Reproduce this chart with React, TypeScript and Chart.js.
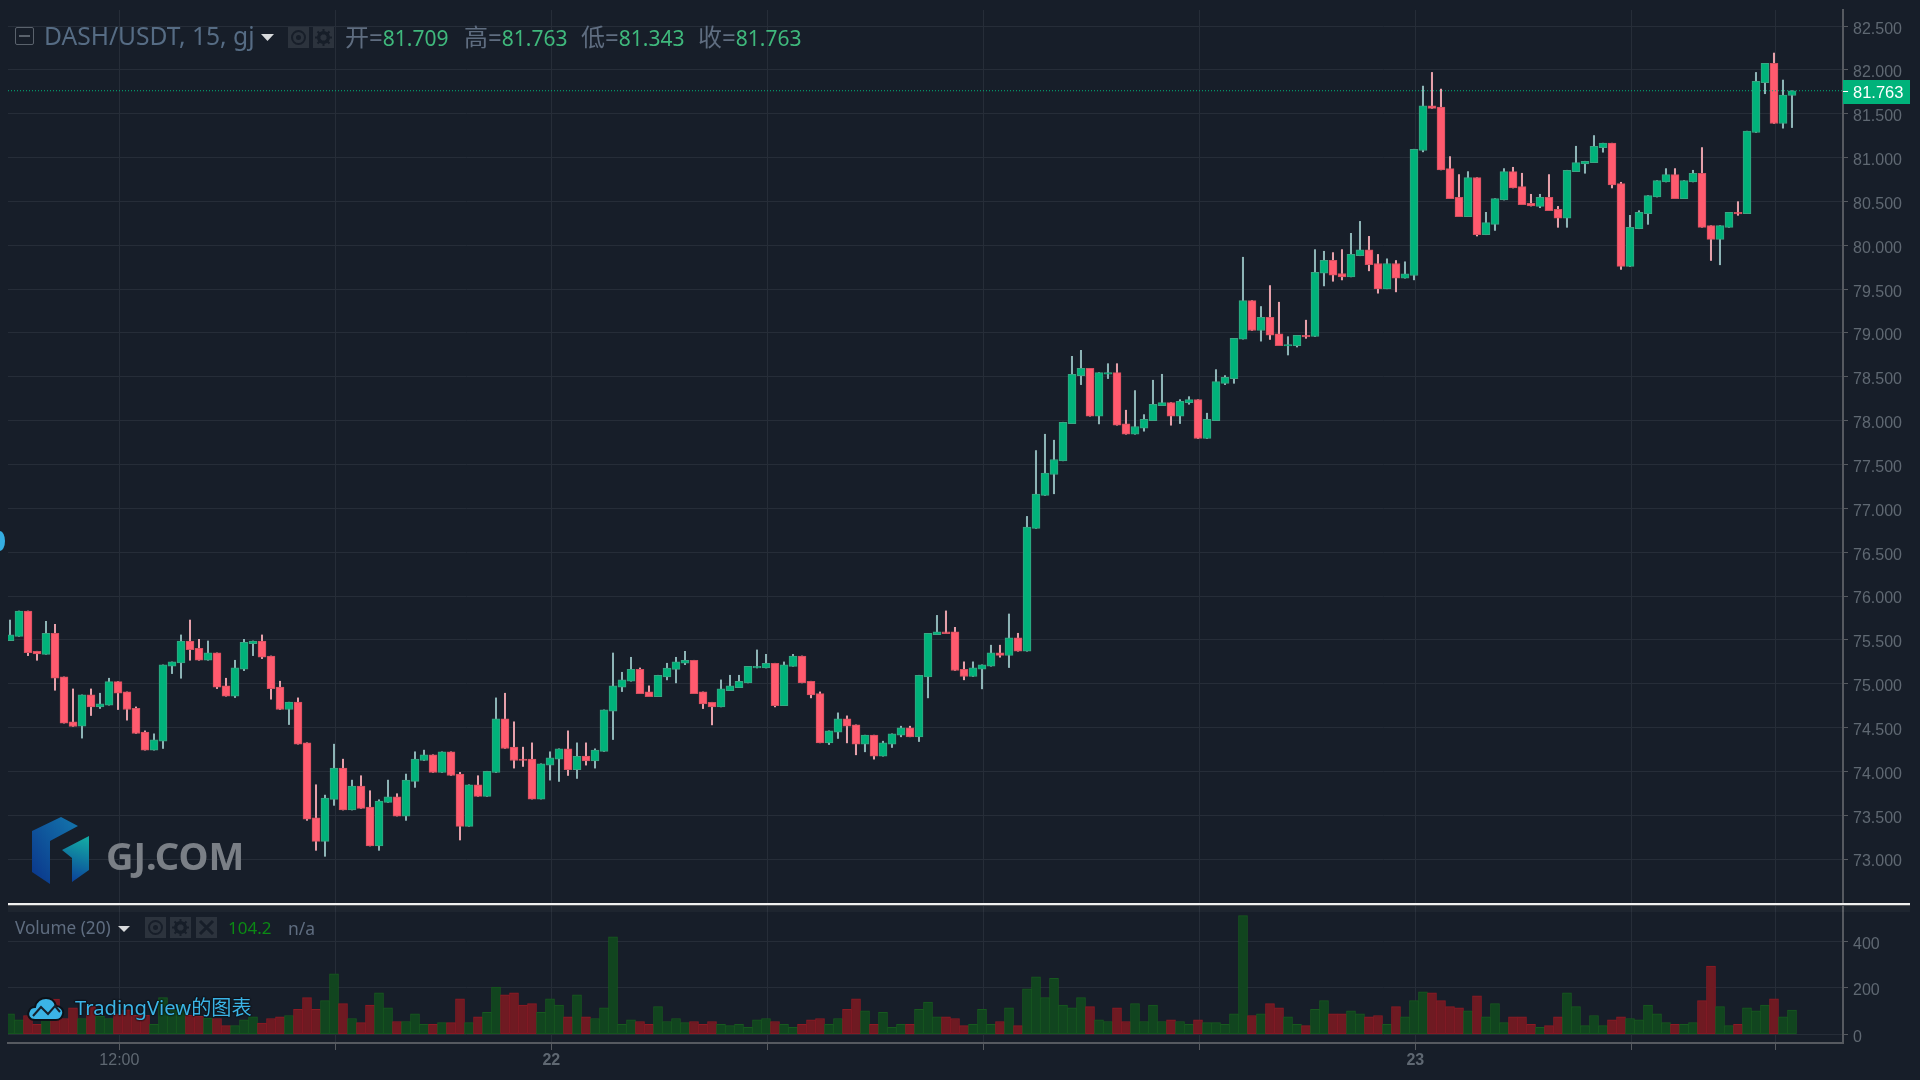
import React, { useEffect, useRef } from "react";
import { Chart, registerables } from "chart.js";

Chart.register(...registerables);

const opens = [
75.491,75.540,75.829,75.370,75.335,75.575,75.077,74.565,74.515,74.872,
74.735,74.755,75.024,74.906,74.720,74.447,74.242,74.344,75.199,75.237,
75.487,75.404,75.267,75.351,74.975,74.857,75.165,75.457,75.487,75.316,
74.960,74.705,74.789,74.326,73.471,73.202,73.680,74.037,73.559,73.832,
73.593,73.149,73.646,73.710,73.490,73.885,74.124,74.189,73.988,74.223,
73.969,73.373,73.847,73.714,73.987,74.599,74.276,74.139,74.139,73.684,
74.071,74.139,74.257,74.018,74.173,74.120,74.227,74.686,74.959,75.028,
75.164,74.906,74.853,75.077,75.164,75.233,75.267,74.906,74.788,74.735,
74.921,74.955,75.009,75.179,75.179,75.233,74.750,75.198,75.316,75.028,
74.887,74.325,74.447,74.599,74.530,74.310,74.413,74.173,74.310,74.413,
74.496,74.394,75.077,75.559,75.590,75.590,75.165,75.082,75.165,75.199,
75.351,75.321,75.522,75.370,76.771,77.147,77.386,77.542,77.967,78.514,
78.597,78.051,78.529,78.548,77.963,77.845,77.914,78.001,78.172,78.206,
78.051,78.206,78.240,77.796,78.001,78.426,78.480,78.930,79.370,79.028,
79.180,78.990,78.852,78.855,78.973,78.960,79.681,79.829,79.678,79.640,
79.881,79.949,79.793,79.504,79.793,79.625,79.656,81.081,81.591,81.576,
80.875,80.547,80.327,80.772,80.121,80.239,80.517,80.841,80.669,80.479,
80.444,80.547,80.410,80.311,80.841,80.928,80.944,81.115,81.165,80.704,
79.759,80.189,80.361,80.551,80.723,80.807,80.532,80.723,80.822,80.224,
80.067,80.205,80.376,80.361,81.287,81.854,82.075,81.389,81.709,
];
const highs = [
75.726,75.829,75.829,75.370,75.711,75.677,75.077,74.940,74.872,74.940,
74.891,75.062,75.024,74.906,74.735,74.462,74.428,75.214,75.248,75.556,
75.726,75.506,75.487,75.351,75.062,75.267,75.506,75.487,75.556,75.316,
75.028,74.789,74.838,74.326,73.847,73.729,74.310,74.139,73.900,73.950,
73.779,73.676,73.900,73.745,73.969,74.223,74.242,74.189,74.223,74.223,
73.988,73.847,73.950,74.001,74.838,74.891,74.565,74.276,74.325,74.086,
74.223,74.257,74.462,74.325,74.325,74.257,74.701,75.350,75.130,75.301,
75.179,74.975,75.096,75.233,75.301,75.369,75.267,74.906,74.788,75.043,
75.096,75.096,75.198,75.385,75.335,75.233,75.248,75.335,75.316,75.028,
74.906,74.462,74.667,74.633,74.530,74.413,74.413,74.344,74.428,74.515,
74.515,75.096,75.574,75.779,75.830,75.643,75.249,75.249,75.215,75.439,
75.439,75.795,75.575,76.908,77.659,77.845,77.777,77.982,78.734,78.802,
78.597,78.548,78.650,78.650,78.119,78.343,78.069,78.461,78.529,78.206,
78.240,78.274,78.240,78.085,78.582,78.514,78.939,79.864,79.370,79.302,
79.541,79.351,78.958,78.973,79.146,79.951,79.932,79.917,79.951,80.137,
80.273,80.102,79.896,79.846,79.827,79.812,81.096,81.816,81.972,81.782,
81.012,80.807,80.841,80.772,80.376,80.532,80.875,80.890,80.822,80.582,
80.582,80.807,80.444,80.856,81.130,80.959,81.252,81.165,81.165,80.719,
80.342,80.395,80.567,80.738,80.875,80.875,80.738,80.856,81.115,80.224,
80.224,80.376,80.498,81.302,81.972,82.075,82.193,81.885,81.763,
];
const lows = [
75.491,75.540,75.320,75.267,75.335,74.925,74.550,74.512,74.379,74.637,
74.717,74.755,74.705,74.584,74.432,74.242,74.242,74.261,75.115,75.062,
75.267,75.267,75.267,74.944,74.857,74.842,75.149,75.320,75.286,74.823,
74.705,74.534,74.310,73.441,73.099,73.031,73.612,73.559,73.559,73.578,
73.149,73.099,73.646,73.490,73.441,73.817,74.124,73.988,73.988,73.953,
73.217,73.373,73.714,73.714,73.987,74.261,74.037,74.056,73.684,73.684,
73.900,73.885,73.953,73.919,74.071,74.037,74.227,74.363,74.910,75.028,
74.887,74.853,74.853,75.043,75.009,75.217,74.887,74.716,74.530,74.735,
74.921,74.955,75.009,75.179,75.179,74.735,74.750,75.198,75.009,74.838,
74.325,74.306,74.375,74.325,74.189,74.223,74.139,74.173,74.272,74.394,
74.394,74.340,74.838,75.559,75.571,75.150,75.044,75.082,74.941,75.199,
75.302,75.184,75.370,75.370,76.771,77.147,77.166,77.542,77.967,78.411,
78.051,77.963,78.480,77.948,77.845,77.845,77.880,78.001,78.172,77.948,
77.967,78.187,77.796,77.796,78.001,78.411,78.426,78.930,79.028,78.907,
78.926,78.855,78.749,78.840,78.939,78.960,79.537,79.590,79.605,79.640,
79.881,79.709,79.454,79.504,79.469,79.625,79.606,81.066,81.561,80.860,
80.532,80.327,80.327,80.106,80.121,80.170,80.517,80.654,80.464,80.448,
80.429,80.395,80.205,80.205,80.841,80.822,80.944,81.062,80.654,79.725,
79.759,80.189,80.239,80.551,80.723,80.532,80.532,80.723,80.205,79.827,
79.778,80.205,80.342,80.361,81.287,81.729,81.389,81.336,81.343,
];
const closes = [
75.556,75.829,75.354,75.339,75.575,75.062,74.550,74.512,74.872,74.735,
74.770,75.024,74.891,74.705,74.432,74.242,74.360,75.214,75.248,75.487,
75.389,75.267,75.351,74.960,74.857,75.180,75.472,75.487,75.301,74.944,
74.705,74.789,74.310,73.456,73.202,73.695,74.037,73.559,73.832,73.578,
73.149,73.661,73.710,73.490,73.900,74.139,74.189,73.988,74.223,73.953,
73.373,73.847,73.714,74.001,74.599,74.261,74.124,74.124,73.684,74.086,
74.154,74.257,74.018,74.170,74.120,74.242,74.701,74.975,75.043,75.164,
74.887,74.853,75.096,75.179,75.248,75.267,74.887,74.769,74.735,74.940,
74.975,75.028,75.198,75.198,75.233,74.750,75.214,75.316,75.009,74.872,
74.325,74.462,74.599,74.515,74.310,74.413,74.173,74.325,74.428,74.496,
74.394,75.096,75.574,75.590,75.571,75.150,75.082,75.180,75.215,75.351,
75.321,75.522,75.370,76.786,77.162,77.401,77.557,77.982,78.529,78.597,
78.051,78.548,78.548,77.948,77.845,77.933,78.016,78.187,78.206,78.051,
78.221,78.240,77.796,78.016,78.445,78.495,78.939,79.370,79.028,79.180,
78.975,78.855,78.867,78.973,78.954,79.693,79.829,79.659,79.640,79.898,
79.949,79.778,79.504,79.793,79.625,79.675,81.096,81.591,81.561,80.860,
80.532,80.327,80.772,80.121,80.258,80.532,80.841,80.654,80.464,80.448,
80.547,80.395,80.311,80.856,80.944,80.959,81.130,81.165,80.688,79.759,
80.205,80.376,80.567,80.738,80.807,80.532,80.738,80.822,80.205,80.067,
80.224,80.376,80.357,81.302,81.870,82.075,81.389,81.713,81.763,
];
const volumes = [
88,62,81,43,62,151,68,114,68,119,
77,68,88,105,82,82,43,158,105,126,
82,77,70,68,37,37,62,75,48,68,
75,81,107,158,107,145,260,132,68,50,
126,178,114,55,55,88,43,43,50,50,
152,50,75,94,203,170,178,126,132,94,
152,126,75,170,75,68,114,419,43,62,
55,43,119,55,68,50,55,43,55,43,
37,43,30,62,68,55,43,30,43,62,
68,43,68,107,152,101,43,94,30,43,
43,107,139,75,75,68,37,43,107,43,
55,114,37,196,247,158,241,126,114,158,
119,62,55,114,55,132,55,126,55,62,
55,43,62,50,50,43,88,510,81,88,
132,114,75,43,37,107,145,88,88,101,
88,75,81,43,119,75,145,183,178,145,
119,114,101,165,75,132,50,75,75,43,
30,37,75,178,119,37,81,37,62,75,
68,62,126,88,50,43,43,50,145,293,
119,37,43,114,101,126,152,75,104,
];

const lastPrice = 81.763;
const priceTicks = [73, 73.5, 74, 74.5, 75, 75.5, 76, 76.5, 77, 77.5, 78, 78.5, 79, 79.5, 80, 80.5, 81, 81.5, 82, 82.5];
const volumeTicks = [0, 200, 400];
const timeTickPositions = [12.15, 36.15, 60.15, 84.15, 108.15, 132.15, 156.15, 180.15, 196.15];
const timeTickLabels = ["12:00", "", "22", "", "", "", "23", "", ""];
const legendOHLC = [
  { label: "开=", value: "81.709", left: 345 },
  { label: "高=", value: "81.763", left: 464 },
  { label: "低=", value: "81.343", left: 581 },
  { label: "收=", value: "81.763", left: 698 },
];

const BG = "#171e29";
const GRID = "#262d38";
const AXIS = "#565a60";
const TICK_TEXT = "#5f6872";
const UP = "#00b27a";
const UP_BORDER = "#3aa583";
const DOWN = "#ff5a6e";
const DOWN_BORDER = "#d4505f";
const UP_WICK = "#8db4b6";
const DOWN_WICK = "#e6a0aa";
const VOL_UP = "#11451f";
const VOL_UP_BORDER = "#17591f";
const VOL_DOWN = "#6f1a22";
const VOL_DOWN_BORDER = "#8c1a24";

const FONT = "'Liberation Sans', Arial, sans-serif";
const HEAD_FONT = "'Noto Sans', 'Noto Sans CJK SC', sans-serif";
const X_MIN = -0.2222;
const X_MAX = 203.667;

const isUp = (i: number) => closes[i] >= opens[i];

const fitY = (s: any) => {
  s.width = 77;
  s.paddingTop = 0;
  s.paddingBottom = 0;
};
const fitX = (h: number) => (s: any) => {
  s.height = h;
  s.paddingLeft = 0;
  s.paddingRight = 0;
};

const PriceTag = {
  id: "priceTag",
  afterDraw(chart: any) {
    const { ctx, scales } = chart;
    const y = scales.y.getPixelForValue(lastPrice);
    ctx.save();
    ctx.fillStyle = UP;
    ctx.fillRect(1843, Math.round(y) - 11, 67, 24);
    ctx.strokeStyle = "#ffffff";
    ctx.lineWidth = 1;
    ctx.beginPath();
    ctx.moveTo(1843, Math.round(y) + 0.5);
    ctx.lineTo(1848, Math.round(y) + 0.5);
    ctx.stroke();
    ctx.fillStyle = "#ffffff";
    ctx.font = `16.5px ${FONT}`;
    ctx.textBaseline = "middle";
    ctx.textAlign = "left";
    ctx.fillText(lastPrice.toFixed(3), 1853, y + 3);
    ctx.restore();
  },
};

function Icon({ left, top, kind }: { left: number; top: number; kind: string }) {
  const c = "#171e29";
  return (
    <svg width={21} height={21} viewBox="0 0 21 21" style={{ position: "absolute", left, top }}>
      <rect width={21} height={21} fill="#2c333d" />
      {kind === "eye" && (
        <g>
          <circle cx={10.5} cy={10.5} r={6.5} fill="none" stroke={c} strokeWidth={2} />
          <circle cx={10.5} cy={10.5} r={2.5} fill={c} />
        </g>
      )}
      {kind === "gear" && (
        <g>
          <circle cx={10.5} cy={10.5} r={5} fill="none" stroke={c} strokeWidth={3} />
          <path d="M10.5 2v17M2 10.5h17M4.5 4.5l12 12M16.5 4.5l-12 12" stroke={c} strokeWidth={2} />
          <circle cx={10.5} cy={10.5} r={3} fill="#2c333d" />
        </g>
      )}
      {kind === "x" && <path d="M4 4l13 13M17 4L4 17" stroke={c} strokeWidth={3} />}
    </svg>
  );
}

export default function App() {
  const priceRef = useRef<HTMLCanvasElement>(null);
  const volRef = useRef<HTMLCanvasElement>(null);

  useEffect(() => {
    const idx = opens.map((_, i) => i);
    const setTimeTicks = (scale: any) => {
      scale.ticks = timeTickPositions.map((value) => ({ value }));
    };
    const price = new Chart(priceRef.current!, {
      type: "bar",
      data: {
        datasets: [
          {
            type: "line",
            data: [
              { x: X_MIN, y: lastPrice },
              { x: X_MAX, y: lastPrice },
            ],
            borderColor: UP,
            borderWidth: 1,
            borderDash: [1, 2],
            pointRadius: 0,
            order: 0,
          },
          {
            data: idx.map((i) => ({ x: i, y: [Math.min(opens[i], closes[i]), Math.max(opens[i], closes[i])] })),
            backgroundColor: idx.map((i) => (isUp(i) ? UP : DOWN)),
            borderColor: idx.map((i) => (isUp(i) ? UP_BORDER : DOWN_BORDER)),
            borderWidth: 1,
            borderSkipped: false,
            barThickness: 8,
            grouped: false,
            order: 1,
          },
          {
            data: idx.map((i) => ({ x: i, y: [lows[i], highs[i]] })),
            backgroundColor: idx.map((i) => (isUp(i) ? UP_WICK : DOWN_WICK)),
            borderWidth: 0,
            barThickness: 1.4,
            grouped: false,
            order: 2,
          },
        ] as any,
      },
      options: {
        responsive: false,
        animation: false,
        events: [],
        layout: { padding: { left: 8, top: 10, right: 0, bottom: 0 } },
        plugins: { legend: { display: false }, tooltip: { enabled: false }, title: { display: false } },
        scales: {
          x: {
            type: "linear",
            offset: false,
            min: X_MIN,
            max: X_MAX,
            afterBuildTicks: setTimeTicks,
            afterFit: fitX(0),
            ticks: { display: false },
            grid: { color: GRID, drawTicks: false, offset: false },
            border: { display: false },
          },
          y: {
            type: "linear",
            position: "right",
            min: 72.487,
            max: 82.684,
            afterBuildTicks: (s: any) => {
              s.ticks = priceTicks.map((value) => ({ value }));
            },
            afterFit: fitY,
            ticks: {
              color: TICK_TEXT,
              font: { family: FONT, size: 16 },
              padding: 5,
              labelOffset: 3,
              callback: (v: any) => Number(v).toFixed(3),
            },
            grid: { color: GRID, tickColor: AXIS, tickLength: 5 },
            border: { color: AXIS, width: 2 },
          },
        },
      } as any,
      plugins: [PriceTag],
    });

    const vol = new Chart(volRef.current!, {
      type: "bar",
      data: {
        datasets: [
          {
            data: idx.map((i) => ({ x: i, y: volumes[i] })),
            backgroundColor: idx.map((i) => (isUp(i) ? VOL_UP : VOL_DOWN)),
            borderColor: idx.map((i) => (isUp(i) ? VOL_UP_BORDER : VOL_DOWN_BORDER)),
            borderWidth: 1,
            borderSkipped: false,
            barThickness: 9,
            grouped: false,
          },
        ] as any,
      },
      options: {
        responsive: false,
        animation: false,
        events: [],
        layout: { padding: { left: 8, top: 2, right: 0, bottom: 0 } },
        plugins: { legend: { display: false }, tooltip: { enabled: false } },
        scales: {
          x: {
            type: "linear",
            offset: false,
            min: X_MIN,
            max: X_MAX,
            afterBuildTicks: setTimeTicks,
            afterFit: fitX(37),
            ticks: {
              color: TICK_TEXT,
              autoSkip: false,
              maxRotation: 0,
              minRotation: 0,
              padding: 1,
              font: (c: any) => ({
                family: FONT,
                size: 16,
                weight: /^\d\d$/.test(timeTickLabels[c.index] || "") ? "bold" : "normal",
              }),
              callback: (_: any, i: number) => timeTickLabels[i],
            },
            grid: { color: GRID, tickColor: AXIS, tickLength: 7, offset: false },
            border: { color: AXIS, width: 2 },
          },
          y: {
            type: "linear",
            position: "right",
            min: -37.4,
            max: 551.7,
            afterBuildTicks: (s: any) => {
              s.ticks = volumeTicks.map((value) => ({ value }));
            },
            afterFit: fitY,
            ticks: {
              color: TICK_TEXT,
              font: { family: FONT, size: 16 },
              padding: 5,
              labelOffset: 3,
              callback: (v: any) => String(v),
            },
            grid: { color: GRID, tickColor: AXIS, tickLength: 5 },
            border: { color: AXIS, width: 2 },
          },
        },
      } as any,
    });

    return () => {
      price.destroy();
      vol.destroy();
    };
  }, []);

  const abs = (style: React.CSSProperties): React.CSSProperties => ({ position: "absolute", whiteSpace: "nowrap", ...style });

  return (
    <div style={{ position: "fixed", left: 0, top: 0, width: 1920, height: 1080, background: BG, overflow: "hidden" }}>
      <canvas ref={priceRef} width={1920} height={904} style={{ position: "absolute", left: 0, top: 0 }} />
      <canvas ref={volRef} width={1920} height={176} style={{ position: "absolute", left: 0, top: 904 }} />

      <div style={abs({ left: 8, top: 906, width: 1902, height: 6, background: "rgba(255,255,255,0.03)" })} />
      <div style={abs({ left: 8, top: 903, width: 1902, height: 2, background: "#f0f0f0" })} />
      <div style={abs({ left: 8, top: 905, width: 1902, height: 1, background: "#55585c" })} />

      <div style={abs({ left: -5, top: 531, width: 10, height: 20, borderRadius: "50%", background: "#35aee2" })} />

      {/* Header */}
      <div style={abs({ left: 15, top: 27, width: 17, height: 16, border: "1.5px solid #5a626c", borderRadius: 2 })}>
        <div style={{ position: "absolute", left: 3, right: 3, top: 7, height: 2, background: "#5a626c" }} />
      </div>
      <div style={abs({ left: 44, top: 19, font: `24.6px ${HEAD_FONT}`, color: "#566c84" })}>DASH/USDT, 15, gj</div>
      <svg width={13} height={7} style={{ position: "absolute", left: 261, top: 34 }}>
        <path d="M0 0h13L6.5 7z" fill="#d8dadc" />
      </svg>
      <Icon left={288} top={27} kind="eye" />
      <Icon left={313} top={27} kind="gear" />
      {legendOHLC.map((o) => (
        <div key={o.left} style={abs({ left: o.left, top: 18, font: `24px ${HEAD_FONT}`, color: "#5f6d80" })}>
          {o.label}
          <span style={{ color: "#3fb87c", fontSize: 21 }}>{o.value}</span>
        </div>
      ))}

      {/* Volume legend */}
      <div style={abs({ left: 15, top: 916, font: `17.2px ${HEAD_FONT}`, color: "#5f6d80" })}>Volume (20)</div>
      <svg width={12} height={6} style={{ position: "absolute", left: 118, top: 926 }}>
        <path d="M0 0h12L6 6z" fill="#d8dadc" />
      </svg>
      <Icon left={145} top={917} kind="eye" />
      <Icon left={170} top={917} kind="gear" />
      <Icon left={196} top={917} kind="x" />
      <div style={abs({ left: 228, top: 916, font: `17px ${HEAD_FONT}`, color: "#0b8a14" })}>104.2</div>
      <div style={abs({ left: 288, top: 916, font: `17.5px ${HEAD_FONT}`, color: "#5f6d80" })}>n/a</div>

      {/* GJ.COM watermark */}
      <svg width={60} height={70} viewBox="0 0 60 70" style={{ position: "absolute", left: 31, top: 816 }}>
        <defs>
          <linearGradient id="gjL" x1="0" y1="1" x2="1" y2="0">
            <stop offset="0" stopColor="#0a348a" />
            <stop offset="1" stopColor="#1477ad" />
          </linearGradient>
          <linearGradient id="gjR" x1="0.5" y1="0" x2="0.3" y2="1">
            <stop offset="0" stopColor="#13a7a4" />
            <stop offset="1" stopColor="#0b3f9a" />
          </linearGradient>
        </defs>
        <path d="M1 15 L30 1 L47 10 L19 25 L19 68 L1 56 Z" fill="url(#gjL)" />
        <path d="M31 34 L58 20 L58 54 L41 66 L41 42 Z" fill="url(#gjR)" />
      </svg>
      <div style={abs({ left: 106, top: 834, font: `bold 38px 'Noto Sans', ${FONT}`, color: "#7a7f86", lineHeight: "42px" })}>GJ.COM</div>

      {/* TradingView badge */}
      <svg width={38} height={26} viewBox="0 0 38 26" style={{ position: "absolute", left: 27, top: 996 }}>
        <path
          d="M8 24 C2 24 0 19 2 15 C3 12 6 11 8 11 C9 5 14 2 19 2 C25 2 28 6 29 10 C34 10 37 14 36 18 C35 22 33 24 29 24 Z"
          fill="#3bb4e6"
          stroke="#0c1118"
          strokeWidth={2}
        />
        <path d="M6 20 L14 11 L21 18 L28 10 L33 16" fill="none" stroke="#16202b" strokeWidth={2} />
      </svg>
      <div
        style={abs({
          left: 75,
          top: 992,
          font: `20.2px 'Noto Sans', 'Noto Sans CJK SC', sans-serif`,
          color: "#3bb4e6",
          textShadow: "0 0 2px #0b1016, 0 0 2px #0b1016, 0 0 2px #0b1016",
        })}
      >
        TradingView的图表
      </div>
    </div>
  );
}
